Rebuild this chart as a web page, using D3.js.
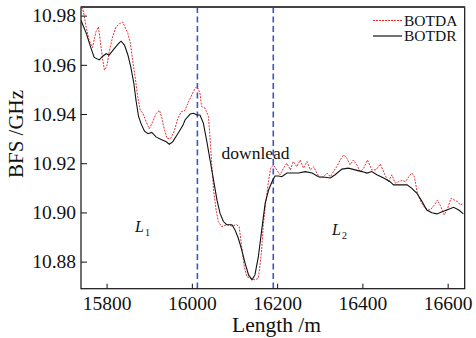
<!DOCTYPE html>
<html>
<head>
<meta charset="utf-8">
<script src="https://cdn.jsdelivr.net/npm/d3@7/dist/d3.min.js"></script>
<style>
    body { margin: 0; background: #fff; }
    svg { display: block; font-family: "Liberation Serif", "Times New Roman", serif; }
</style>
</head>
<body>
<div id="chart"></div>
<script>
const width = 476;
const height = 338;
const margin = { top: 7, right: 11.3, bottom: 49.3, left: 81 };

// BOTDR trace (black, solid)
const botdrLength = [15740, 15752, 15763, 15771, 15783, 15791, 15799, 15806, 15818, 15830, 15834, 15842, 15850, 15857, 15864, 15869, 15875, 15881, 15889, 15897, 15906, 15916, 15928, 15940, 15947, 15955, 15967, 15979, 15984, 15996, 16004, 16012, 16019, 16027, 16035, 16043, 16051, 16059, 16066, 16074, 16082, 16094, 16101, 16109, 16117, 16125, 16133, 16141, 16148, 16156, 16164, 16172, 16180, 16188, 16195, 16203, 16211, 16223, 16235, 16250, 16266, 16282, 16297, 16313, 16325, 16336, 16352, 16367, 16383, 16399, 16411, 16422, 16434, 16450, 16465, 16473, 16489, 16505, 16516, 16528, 16540, 16551, 16563, 16575, 16587, 16598, 16614, 16626, 16637];
const botdrBfs = [10.978, 10.973, 10.967, 10.963, 10.962, 10.9635, 10.9645, 10.964, 10.9666, 10.969, 10.9696, 10.968, 10.964, 10.959, 10.9524, 10.9456, 10.939, 10.936, 10.933, 10.932, 10.9325, 10.9307, 10.9296, 10.9287, 10.9277, 10.9287, 10.932, 10.9354, 10.9376, 10.940, 10.9403, 10.9396, 10.9396, 10.9363, 10.929, 10.921, 10.913, 10.905, 10.8997, 10.8963, 10.895, 10.895, 10.893, 10.8895, 10.8848, 10.8793, 10.8746, 10.8726, 10.8746, 10.882, 10.893, 10.9038, 10.9091, 10.9125, 10.9148, 10.9148, 10.9145, 10.916, 10.916, 10.916, 10.9166, 10.916, 10.9145, 10.9143, 10.914, 10.9153, 10.9176, 10.918, 10.9173, 10.9166, 10.916, 10.9166, 10.9153, 10.914, 10.9125, 10.9112, 10.9112, 10.9112, 10.9098, 10.9078, 10.9044, 10.901, 10.8999, 10.8994, 10.9003, 10.901, 10.9021, 10.901, 10.8994];

// BOTDA trace (red, dotted)
const botdaLength = [15742, 15746, 15752, 15759, 15767, 15775, 15781, 15785, 15791, 15795, 15801, 15806, 15814, 15822, 15830, 15838, 15843, 15850, 15856, 15861, 15867, 15873, 15879, 15885, 15893, 15900, 15908, 15916, 15924, 15929, 15936, 15942, 15950, 15958, 15967, 15975, 15984, 15992, 16000, 16008, 16012, 16019, 16023, 16031, 16039, 16043, 16047, 16051, 16057, 16062, 16070, 16082, 16094, 16105, 16111, 16117, 16123, 16129, 16138, 16148, 16156, 16163, 16168, 16174, 16180, 16185, 16191, 16199, 16207, 16215, 16223, 16231, 16238, 16246, 16254, 16262, 16270, 16278, 16286, 16293, 16301, 16309, 16317, 16325, 16332, 16340, 16348, 16356, 16364, 16371, 16379, 16387, 16395, 16403, 16412, 16422, 16432, 16442, 16451, 16461, 16469, 16477, 16485, 16493, 16501, 16509, 16516, 16522, 16529, 16537, 16547, 16559, 16569, 16576, 16584, 16592, 16600, 16608, 16616, 16623, 16630, 16637];
const botdaBfs = [10.9835, 10.9815, 10.9754, 10.970, 10.967, 10.9734, 10.9754, 10.970, 10.9619, 10.9578, 10.9598, 10.9652, 10.9713, 10.9754, 10.9767, 10.9774, 10.9754, 10.9727, 10.9686, 10.9619, 10.955, 10.947, 10.9415, 10.9404, 10.9368, 10.934, 10.9368, 10.9402, 10.9415, 10.9388, 10.9334, 10.930, 10.930, 10.9327, 10.9381, 10.9409, 10.9415, 10.9449, 10.9478, 10.9505, 10.9512, 10.9485, 10.943, 10.9424, 10.939, 10.9295, 10.9186, 10.9091, 10.901, 10.8963, 10.8942, 10.895, 10.8945, 10.895, 10.8942, 10.886, 10.878, 10.8739, 10.8732, 10.8726, 10.8732, 10.8834, 10.8956, 10.905, 10.913, 10.918, 10.9193, 10.9173, 10.9153, 10.918, 10.920, 10.9173, 10.9207, 10.9186, 10.9213, 10.918, 10.9207, 10.9173, 10.9186, 10.916, 10.914, 10.9145, 10.916, 10.9145, 10.9166, 10.9186, 10.9213, 10.9234, 10.922, 10.9193, 10.9213, 10.9193, 10.9166, 10.918, 10.9213, 10.9173, 10.9173, 10.9197, 10.916, 10.9125, 10.9153, 10.9119, 10.9125, 10.913, 10.9125, 10.9145, 10.916, 10.9145, 10.9078, 10.9044, 10.9017, 10.901, 10.903, 10.905, 10.9024, 10.899, 10.9017, 10.9058, 10.905, 10.9044, 10.903, 10.9037];

const xTicks = [15800, 16000, 16200, 16400, 16600];
const yTicks = [10.88, 10.90, 10.92, 10.94, 10.96, 10.98];
const markerLines = [16013, 16191];
const seriesNames = ['BOTDA', 'BOTDR'];

const svg = d3.select('#chart')
    .append('svg')
    .attr('width', width)
    .attr('height', height);

const x = d3.scaleLinear()
    .domain([15740, 16640])
    .range([margin.left, width - margin.right]);

const y = d3.scaleLinear()
    .domain([10.869, 10.9835])
    .range([height - margin.bottom, margin.top]);

svg.append('defs').append('clipPath').attr('id', 'plotClip')
    .append('rect')
    .attr('x', margin.left)
    .attr('y', margin.top)
    .attr('width', width - margin.left - margin.right)
    .attr('height', height - margin.top - margin.bottom);

const plot = svg.append('g').attr('clip-path', 'url(#plotClip)');

// vertical markers
plot.selectAll('line.marker')
    .data(markerLines)
    .join('line')
    .attr('class', 'marker')
    .attr('x1', d => x(d))
    .attr('x2', d => x(d))
    .attr('y1', margin.top)
    .attr('y2', height - margin.bottom)
    .attr('stroke', '#3a55c8')
    .attr('stroke-width', 1.6)
    .attr('stroke-dasharray', '6,3.5');

const line = d3.line()
    .x(d => x(d[0]))
    .y(d => y(d[1]));

const botda = botdaLength.map((d, i) => [d, botdaBfs[i]]);
const botdr = botdrLength.map((d, i) => [d, botdrBfs[i]]);

plot.append('path')
    .datum(botda)
    .attr('d', line)
    .attr('fill', 'none')
    .attr('stroke', '#e03238')
    .attr('stroke-width', 1)
    .attr('stroke-dasharray', '2,1.2');

plot.append('path')
    .datum(botdr)
    .attr('d', line)
    .attr('fill', 'none')
    .attr('stroke', '#111')
    .attr('stroke-width', 1.1);

// AXES (ticks inward)
const xAxis = svg.append('g')
    .attr('transform', `translate(0,${height - margin.bottom})`)
    .call(d3.axisBottom(x).tickValues(xTicks).tickSize(-5).tickPadding(7).tickFormat(d3.format('d')));

const yAxis = svg.append('g')
    .attr('transform', `translate(${margin.left},0)`)
    .call(d3.axisLeft(y).tickValues(yTicks).tickSize(-6).tickPadding(5).tickFormat(d3.format('.2f')));

[xAxis, yAxis].forEach(g => {
    g.attr('font-family', null);
    g.select('.domain').remove();
    g.selectAll('.tick line').attr('stroke', '#111');
    g.selectAll('.tick text')
        .attr('fill', '#111')
        .style('font-family', '"Liberation Serif", serif')
        .style('font-size', '19.5px');
});

// FRAME
svg.append('rect')
    .attr('x', margin.left)
    .attr('y', margin.top)
    .attr('width', width - margin.left - margin.right)
    .attr('height', height - margin.top - margin.bottom)
    .attr('fill', 'none')
    .attr('stroke', '#111')
    .attr('stroke-width', 1.2);
svg.append('line')
    .attr('x1', margin.left)
    .attr('x2', width - margin.right)
    .attr('y1', margin.top)
    .attr('y2', margin.top)
    .attr('stroke', '#444')
    .attr('stroke-width', 2.2);

// AXIS TITLES
svg.append('text')
    .attr('x', 276.5)
    .attr('y', 332)
    .attr('text-anchor', 'middle')
    .style('font-size', '21.5px')
    .attr('fill', '#111')
    .text('Length /m');

svg.append('text')
    .attr('transform', 'translate(23,134) rotate(-90)')
    .attr('text-anchor', 'middle')
    .style('font-size', '21px')
    .attr('fill', '#111')
    .text('BFS /GHz');

// ANNOTATIONS
svg.append('text')
    .attr('x', 221.5)
    .attr('y', 159)
    .style('font-size', '17.5px')
    .attr('fill', '#111')
    .text('downlead');

const segLabels = [{ name: 'L', sub: '1', x: 135, y: 232 }, { name: 'L', sub: '2', x: 332, y: 235 }];
segLabels.forEach(d => {
    const t = svg.append('text')
        .attr('x', d.x)
        .attr('y', d.y)
        .attr('fill', '#111')
        .style('font-size', '16px');
    t.append('tspan').style('font-style', 'italic').text(d.name);
    t.append('tspan').attr('dy', 4).attr('dx', 1).style('font-size', '10px').text(d.sub);
});

// LEGEND
const legend = svg.append('g');
const legendRows = legend.selectAll('g')
    .data(seriesNames)
    .join('g')
    .attr('transform', (d, i) => `translate(0,${20 + i * 15.5})`);
legendRows.append('line')
    .attr('x1', 373)
    .attr('x2', 402)
    .attr('y1', 0.5)
    .attr('y2', 0.5)
    .attr('stroke', (d, i) => i === 0 ? '#e8262c' : '#111')
    .attr('stroke-width', (d, i) => i === 0 ? 1 : 1.2)
    .attr('stroke-dasharray', (d, i) => i === 0 ? '2,1' : null);
legendRows.append('text')
    .attr('x', 404)
    .attr('y', 5.5)
    .attr('fill', '#111')
    .style('font-size', '15.5px')
    .text(d => d);
</script>
</body>
</html>
